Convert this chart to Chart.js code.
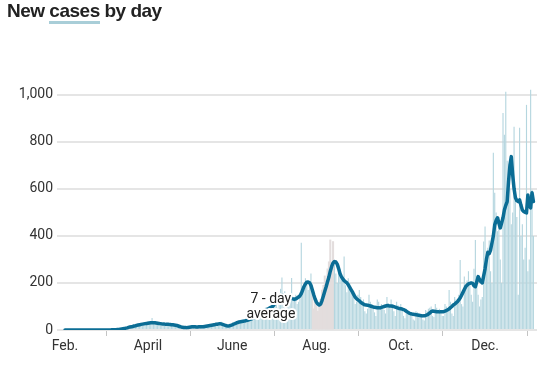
<!DOCTYPE html>
<html>
<head>
<meta charset="utf-8">
<script src="https://cdn.jsdelivr.net/npm/chart.js@4/dist/chart.umd.min.js"></script>
<style>
  body { margin: 0; background: #fff; }
  #wrap { position: relative; width: 547px; height: 371px; }
  #casesChart { position: absolute; left: 0; top: 0; }
  #title { position: absolute; left: 7px; top: 0px; font: bold 19px 'Liberation Sans', sans-serif; color: #222; letter-spacing: -0.5px; }
  #title span { border-bottom: 3px solid #a9ced8; }
</style>
</head>
<body>
<div id="wrap">
  <canvas id="casesChart" width="547" height="371"></canvas>
  <div id="title">New <span>cases</span> by day</div>
</div>
<script>
// --- DATOS: casos diarios, 1 feb 2020 -> 5 ene 2021 ---
const casesFeb = [0,0,0,0,0,0,0,0,0,0, 0,0,0,0,0,0,0,0,0,0, 0,0,0,0,0,0,0,1,0];
const casesMar = [0,0,0,0,1,0,2,1,0,3, 2,4,5,6,4,9,10,12,15,14, 17,13,20,22,18,25,28,20,31,26,33];
const casesApr = [36,30,28,51,33,25,30,35,27,22, 31,24,20,28,30,21,26,22,25,18, 22,15,14,17,9,11,13,8,12,10];
const casesMay = [13,16,12,15,14,10,15,16,12,14, 11,17,15,19,18,22,16,20,25,23, 28,30,26,35,27,20,18,16,22,15,23];
const casesJun = [20,28,31,26,38,35,33,40,36,30, 45,38,42,50,44,48,55,52,62,58, 66,70,80,75,95,88,92,100,85,110];
const casesJul = [115,130,160,95,120,175,223,150,165,140, 120,105,150,221,135,140,150,110,120,160, 371,180,170,220,210,170,190,240,150,90,120];
const casesAug = [100,80,110,130,170,190,230,210,260,290, 383,270,376,290,240,200,280,260,230,210, 312,190,160,220,200,180,170,150,110,120,150];
const casesSep = [170,140,120,130,80,70,90,150,120,110, 105,75,60,130,120,95,110,100,85,70, 140,115,105,130,110,80,60,120,105,90];
const casesOct = [110,95,60,50,90,80,70,75,60,45, 40,80,75,70,65,60,45,40,85,80, 90,95,100,60,55,110,95,85,90,80,60];
const casesNov = [60,110,100,90,170,120,70,60,140,130, 120,150,298,110,100,227,180,210,250,200, 150,120,260,383,230,150,100,130,140,376];
const casesDec = [440,300,350,380,250,200,753,583,500,420, 480,300,200,923,830,1013,720,650,600,450, 500,864,550,480,150,860,400,450,300,350,957];
const casesJan = [250,300,1021,596,400];

const avgFeb = [0,0,0,0,0,0,0,0,0,0, 0,0,0,0,0,0,0,0,0,0, 0,0,0,0,0,0,0,0,0];
const avgMar = [0,0,0,0,0,1,1,1,1,2, 2,3,4,5,6,8,9,11,13,14, 15,17,18,20,21,22,24,25,26,27,28];
const avgApr = [29,30,31,31,31,31,30,29,28,27, 26,25,25,24,24,24,23,22,22,21, 20,19,17,15,13,12,11,11,10,11];
const avgMay = [12,13,14,14,14,13,13,14,14,14, 14,15,16,17,18,19,20,21,22,24, 24,26,27,26,24,22,20,18,17,18,20];
const avgJun = [22,25,27,30,32,34,35,36,37,38, 40,41,43,45,47,50,53,57,61,65, 69,73,77,81,85,88,90,93,96,99];
const avgJul = [105,115,128,138,145,148,149,147,145,143, 141,140,138,135,132,130,132,136,140,145, 155,170,185,196,203,204,201,190,170,150,132];
const avgAug = [118,110,106,110,125,145,165,184,205,225, 250,270,285,291,289,280,262,240,227,218, 210,205,200,192,182,172,162,150,140,133,128];
const avgSep = [124,118,114,110,107,106,105,104,102,100, 98,97,96,95,95,94,96,98,100,102, 104,103,102,102,101,99,97,95,93,91];
const avgOct = [90,89,87,84,80,76,72,70,68,67, 66,65,64,63,62,61,60,61,62,64, 68,72,78,81,80,79,78,78,77,78,78];
const avgNov = [78,80,83,86,90,95,100,106,110,115, 120,128,136,148,160,172,184,191,196,198, 200,198,188,184,205,227,215,205,200,230];
const avgDec = [260,300,330,325,340,370,400,447,465,477, 455,434,455,477,510,530,546,631,700,737, 660,600,562,550,546,553,530,510,504,500,498];
const avgJan = [574,530,519,583,546];

// periodo en gris (29 jul - 13 ago), índices de día
const greyStart = 179;
const greyEnd = 194;

// ejes
const tickDays = [0, 60, 121, 182, 243, 304];
const tickLabels = ['Feb.', 'April', 'June', 'Aug.', 'Oct.', 'Dec.'];
const yTicks = [0, 200, 400, 600, 800, 1000];

// etiqueta de la media
const labelDay = 149;
const labelLines = ['7 - day', 'average'];
const labelValues = [128, 64];

const daily = [].concat(casesFeb, casesMar, casesApr, casesMay, casesJun, casesJul,
    casesAug, casesSep, casesOct, casesNov, casesDec, casesJan);
const average = [].concat(avgFeb, avgMar, avgApr, avgMay, avgJun, avgJul,
    avgAug, avgSep, avgOct, avgNov, avgDec, avgJan);

const blueBars = daily.map((v, i) => ({ x: i, y: (i >= greyStart && i <= greyEnd) ? null : v }));
const greyBars = daily.map((v, i) => ({ x: i, y: v })).filter(p => p.x >= greyStart && p.x <= greyEnd);
const avgLine = average.map((v, i) => ({ x: i, y: v }));

const FONT = "Roboto, 'Liberation Sans', sans-serif";

const avgLabelPlugin = {
    id: 'avgLabel',
    afterDatasetsDraw(chart) {
        const { ctx, scales: { x, y } } = chart;
        const cx = x.getPixelForValue(labelDay);
        ctx.save();
        ctx.font = '14px ' + FONT;
        ctx.textAlign = 'center';
        ctx.textBaseline = 'middle';
        ctx.lineJoin = 'round';
        ctx.lineWidth = 4;
        ctx.strokeStyle = '#fff';
        ctx.fillStyle = '#222';
        labelLines.forEach((t, i) => {
            const cy = y.getPixelForValue(labelValues[i]);
            ctx.strokeText(t, cx, cy);
            ctx.fillText(t, cx, cy);
        });
        ctx.restore();
    }
};

const ctx = document.getElementById('casesChart').getContext('2d');
new Chart(ctx, {
    type: 'bar',
    data: {
        datasets: [
            {
                type: 'line',
                data: avgLine,
                borderColor: '#0b6d95',
                borderWidth: 3.5,
                pointRadius: 0,
                tension: 0,
                borderJoinStyle: 'round',
                borderCapStyle: 'round',
                order: 0
            },
            {
                data: blueBars,
                backgroundColor: '#b5d6df',
                barPercentage: 0.82,
                categoryPercentage: 1,
                grouped: false,
                order: 1
            },
            {
                data: greyBars,
                backgroundColor: '#e3dddd',
                barPercentage: 1,
                categoryPercentage: 1,
                grouped: false,
                order: 2
            }
        ]
    },
    options: {
        responsive: false,
        animation: false,
        layout: { padding: { top: 83, right: 10, left: 0, bottom: 0 } },
        plugins: { legend: { display: false }, tooltip: { enabled: false } },
        scales: {
            x: {
                type: 'linear',
                min: -5.8,
                max: 341.6,
                offset: false,
                afterBuildTicks: s => { s.ticks = tickDays.map(v => ({ value: v })); },
                afterFit: s => { s.height = 41; },
                ticks: {
                    autoSkip: false,
                    maxRotation: 0,
                    padding: 2,
                    color: '#333',
                    font: { family: FONT, size: 14 },
                    callback: v => tickLabels[tickDays.indexOf(v)]
                },
                grid: { drawOnChartArea: false, drawTicks: true, tickLength: 6, color: '#c4c4c4' },
                border: { display: false }
            },
            y: {
                min: 0,
                max: 1050,
                afterBuildTicks: s => { s.ticks = yTicks.map(v => ({ value: v })); },
                afterFit: s => { s.width = 57; },
                ticks: {
                    padding: 4,
                    color: '#333',
                    font: { family: FONT, size: 14 }
                },
                grid: { color: '#e5e5e5', lineWidth: 2, drawTicks: false },
                border: { display: false }
            }
        }
    },
    plugins: [avgLabelPlugin]
});
</script>
</body>
</html>
